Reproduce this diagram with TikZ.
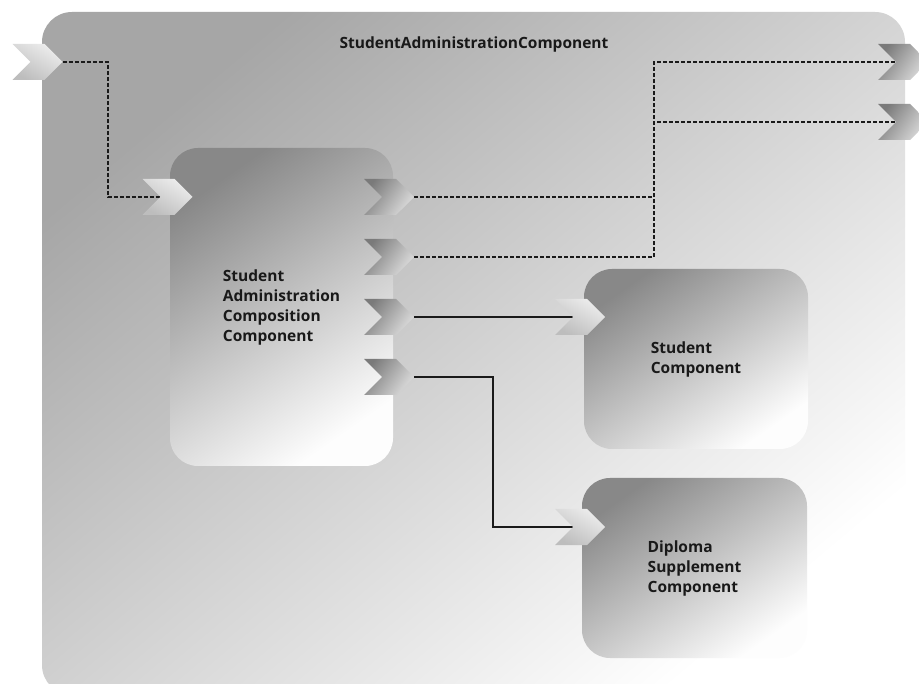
\documentclass[tikz,border=0pt]{standalone}
\usepackage{fontspec}
\setmainfont{Open Sans}
\usetikzlibrary{shapes.symbols}
\pgfdeclarelayer{bg}
\pgfdeclarelayer{wires}
\pgfsetlayers{bg,wires,main}
\definecolor{outerdark}{HTML}{A6A6A6}
\definecolor{outerlight}{HTML}{FFFFFF}
\definecolor{boxdark}{HTML}{888888}
\definecolor{boxlight}{HTML}{FDFDFD}
\definecolor{portdark}{HTML}{7A7A7A}
\definecolor{portlight}{HTML}{DCDCDC}
\definecolor{inportdark}{HTML}{BDBDBD}
\definecolor{inportlight}{HTML}{EDEDED}
\definecolor{wire}{HTML}{1A1A1A}
\begin{document}
\begin{tikzpicture}[x=1pt,y=-1pt,
  outerbox/.style={rounded corners=30pt, shading=axis, top color=outerdark, bottom color=outerlight, shading angle=40, inner sep=0pt},
  compbox/.style={rounded corners=28pt, shading=axis, top color=boxdark, bottom color=boxlight, shading angle=35, inner sep=0pt},
  boxtext/.style={align=left, font=\bfseries\fontsize{15.5}{20}\selectfont, text=black!90, inner sep=0pt},
  outport/.style={signal, signal to=east, signal from=west, minimum width=50pt, minimum height=36pt, inner sep=0pt, shading=axis, top color=portdark, bottom color=portlight, shading angle=55},
  inport/.style={signal, signal to=east, signal from=west, minimum width=50pt, minimum height=36pt, inner sep=0pt, shading=axis, top color=inportlight, bottom color=inportdark, shading angle=-30},
  dwire/.style={draw=wire, line width=1.8pt, dash pattern=on 4pt off 2pt},
  swire/.style={draw=wire, line width=1.8pt}
]
\useasboundingbox (0,0) rectangle (919,684);
\begin{pgfonlayer}{bg}
\fill[white] (0,0) rectangle (919,684);
\node[outerbox, minimum width=863pt, minimum height=683pt] (outer) at (473.5,353.5) {};
\node[compbox, minimum width=223pt, minimum height=318pt] (sacc) at (281.5,307) {};
\node[compbox, minimum width=224pt, minimum height=180pt] (stud) at (696,359) {};
\node[compbox, minimum width=225pt, minimum height=180pt] (dipl) at (694.5,568) {};
\end{pgfonlayer}
\node[boxtext] (sacct) at (sacc) {Student\\Administration\\Composition\\Component};
\node[boxtext] (studt) at (stud) {Student\\Component};
\node[boxtext] (diplt) at (dipl) {Diploma\\Supplement\\Component};
\node[boxtext] (title) at (474,44) {StudentAdministrationComponent};
% ports
\node[inport] (pin) at (37.5,62) {};
\node[inport] (sin) at (167.5,197) {};
\node[outport] (so1) at (389,197) {};
\node[outport] (so2) at (389,257) {};
\node[outport] (so3) at (389,317) {};
\node[outport] (so4) at (389,377) {};
\node[outport] (pr1) at (903,62) {};
\node[outport] (pr2) at (903,122) {};
\node[inport] (stin) at (580,317) {};
\node[inport] (dpin) at (580,527) {};
\coordinate (j1) at (108,62);
\coordinate (j2) at (654,62);
\coordinate (j3) at (654,122);
\coordinate (j4) at (493,377);
\begin{pgfonlayer}{wires}
\draw[dwire] (pin.east) -- (j1) |- (sin.west);
\draw[dwire] (so1.east) -| (j2) -- (pr1.west);
\draw[dwire] (so2.east) -| (j3) -- (pr2.west);
\draw[swire] (so3.east) -- (stin.west);
\draw[swire] (so4.east) -- (j4) |- (dpin.west);
\end{pgfonlayer}
\end{tikzpicture}
\end{document}
